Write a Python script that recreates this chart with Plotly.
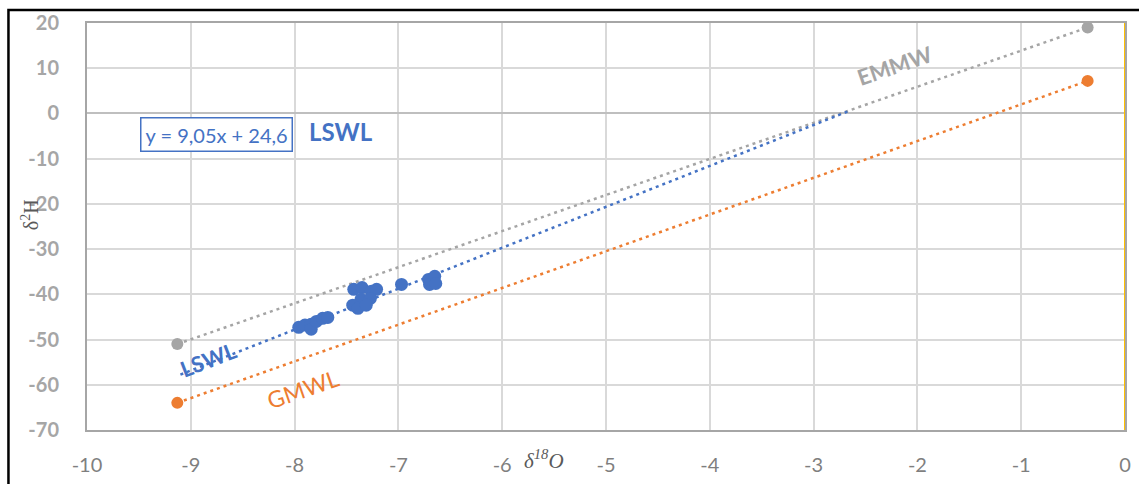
import plotly.graph_objects as go

# Isotope measurements (δ18O, δ2H) of the lake samples
lake_d18o = [-7.96, -7.90, -7.84, -7.84, -7.79, -7.73, -7.68,
             -7.43, -7.35, -7.26, -7.21, -7.36, -7.27, -7.44, -7.39, -7.31,
             -6.97, -6.71, -6.65, -6.70, -6.64]
lake_d2h = [-47.3, -46.8, -46.6, -47.7, -46.0, -45.3, -45.1,
            -38.9, -38.5, -39.3, -38.9, -41.1, -40.9, -42.4, -43.1, -42.4,
            -37.8, -36.7, -36.0, -37.8, -37.6]

# Reference lines: end points
emmw_d18o = [-9.13, -0.36]
emmw_d2h = [-51.0, 19.0]
gmwl_d18o = [-9.13, -0.36]
gmwl_d2h = [-64.0, 7.2]

# Local lake line fit
lswl_slope = 9.05
lswl_intercept = 24.6
lswl_extent = [-9.1, -2.65]

x_ticks = [-10, -9, -8, -7, -6, -5, -4, -3, -2, -1, 0]
y_ticks = [20, 10, 0, -10, -20, -30, -40, -50, -60, -70]

BLUE = "#4472C4"
ORANGE = "#ED7D31"
GRAY = "#A5A5A5"
YELLOW = "#FFC000"
DOT = "3px,4px"

lswl_y = [lswl_slope * x + lswl_intercept for x in lswl_extent]

fig = go.Figure()

fig.add_trace(go.Scatter(x=emmw_d18o, y=emmw_d2h, mode="lines+markers",
                         line=dict(color=GRAY, width=2.5, dash=DOT),
                         marker=dict(color=GRAY, size=12)))
fig.add_trace(go.Scatter(x=gmwl_d18o, y=gmwl_d2h, mode="lines+markers",
                         line=dict(color=ORANGE, width=2.5, dash=DOT),
                         marker=dict(color=ORANGE, size=12)))
fig.add_trace(go.Scatter(x=lswl_extent, y=lswl_y, mode="lines",
                         line=dict(color=BLUE, width=2.5, dash=DOT)))
fig.add_trace(go.Scatter(x=lake_d18o, y=lake_d2h, mode="markers",
                         marker=dict(color=BLUE, size=13)))

font_family = "Lato, 'Open Sans', sans-serif"

annotations = [
    dict(x=-8.755, y=-4.7, text="y = 9,05x + 24,6", showarrow=False,
         font=dict(family=font_family, size=20, color=BLUE),
         bordercolor=BLUE, borderwidth=1.5, borderpad=4, bgcolor="white"),
    dict(x=-7.55, y=-4.0, text="<b>LSWL</b>", showarrow=False,
         font=dict(family=font_family, size=24, color=BLUE)),
    dict(x=-8.83, y=-54.3, text="<b>LSWL</b>", showarrow=False, textangle=-21,
         font=dict(family=font_family, size=22, color=BLUE)),
    dict(x=-2.22, y=10.5, text="<b>EMMW</b>", showarrow=False, textangle=-19,
         font=dict(family=font_family, size=22, color=GRAY)),
    dict(x=-7.92, y=-61.0, text="GMWL", showarrow=False, textangle=-19,
         font=dict(family=font_family, size=23, color=ORANGE)),
    dict(x=-5.6, y=-0.072, xref="x", yref="paper", yanchor="middle",
         text="<i>δ<sup>18</sup>O</i>", showarrow=False,
         font=dict(family="'Liberation Serif', serif", size=21, color="#595959")),
    dict(x=-0.055, y=0.53, xref="paper", yref="paper", xanchor="center",
         textangle=-90, text="δ<sup>2</sup>H", showarrow=False,
         font=dict(family="'Liberation Serif', serif", size=20, color="#595959")),
]

plot_w = 1139 - 87 - 8
plot_h = 484 - 23 - 53

shapes = [
    # outer frame
    dict(type="rect", xref="paper", yref="paper",
         x0=(8 - 87) / plot_w, x1=(1150 - 87) / plot_w,
         y0=-(495 - 431) / plot_h, y1=1 + (23 - 10) / plot_h,
         line=dict(color="black", width=2.5), layer="below"),
    # right edge marker at x = 0
    dict(type="line", xref="x", yref="paper", x0=0, x1=0, y0=0, y1=1,
         line=dict(color=YELLOW, width=2)),
]

fig.update_layout(
    width=1139, height=484,
    margin=dict(l=87, r=8, t=23, b=53),
    paper_bgcolor="white", plot_bgcolor="white",
    showlegend=False,
    annotations=annotations,
    shapes=shapes,
    xaxis=dict(range=[-10, 0], tickvals=x_ticks, ticktext=[str(v) for v in x_ticks],
               showgrid=True, gridcolor="#D9D9D9", gridwidth=1.5,
               showline=True, linecolor="#A6A6A6", linewidth=2, mirror=True,
               zeroline=False, ticks="", ticklabelstandoff=16,
               tickfont=dict(family=font_family, size=20, color="#7F7F7F")),
    yaxis=dict(range=[-70, 20], tickvals=y_ticks, ticktext=[str(v) for v in y_ticks],
               showgrid=True, gridcolor="#D9D9D9", gridwidth=1.5,
               showline=True, linecolor="#A6A6A6", linewidth=2, mirror=True,
               zeroline=True, zerolinecolor="#BFBFBF", zerolinewidth=2,
               ticks="", ticklabelstandoff=22,
               tickfont=dict(family=font_family, size=20, color="#A6A6A6", weight="bold")),
)

fig.write_html("out.html")
